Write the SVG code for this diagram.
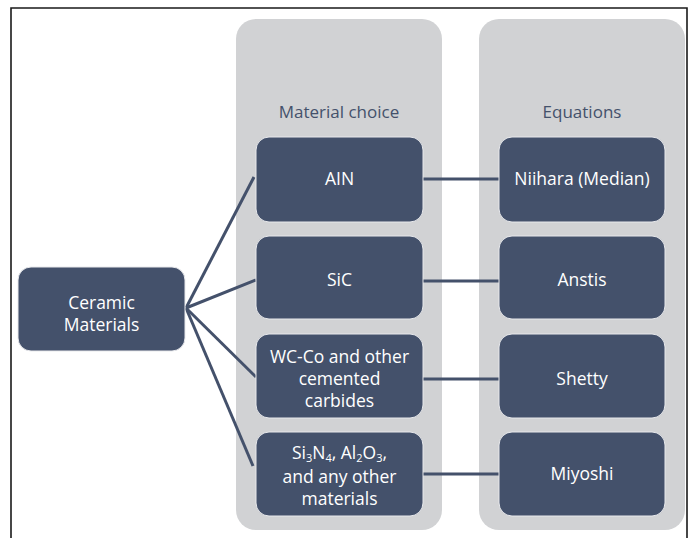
<svg xmlns="http://www.w3.org/2000/svg" width="692" height="538" viewBox="0 0 692 538">
<style>
.col{fill:#D1D2D4}
.box{fill:#44516B;stroke:#E8E9EC;stroke-width:1}
.t{font-family:"Open Sans","Noto Sans",sans-serif;font-size:17.5px;fill:#FFFFFF;text-anchor:middle}
.h{font-family:"Open Sans","Noto Sans",sans-serif;font-size:17px;fill:#44516B;text-anchor:middle}
.c{stroke:#44516B;stroke-width:3;fill:none}
.sub{font-size:11px}
</style>
<rect width="692" height="538" fill="#FFFFFF"/>
<path d="M11 538 V8 H687 V538" fill="none" stroke="#1A1A1A" stroke-width="1.6"/>
<rect class="col" x="236" y="19" width="206" height="511" rx="20"/>
<rect class="col" x="479" y="19" width="206" height="511" rx="20"/>
<text class="h" x="339" y="118">Material choice</text>
<text class="h" x="582" y="118">Equations</text>
<g id="connectors">
<line class="c" x1="186" y1="308" x2="254" y2="177"/>
<line class="c" x1="186" y1="308" x2="256" y2="280"/>
<line class="c" x1="186" y1="308" x2="256" y2="377"/>
<line class="c" x1="186" y1="308" x2="253" y2="466"/>
<line class="c" x1="423" y1="179" x2="499" y2="179"/>
<line class="c" x1="423" y1="281" x2="499" y2="281"/>
<line class="c" x1="423" y1="379" x2="499" y2="379"/>
<line class="c" x1="423" y1="474" x2="499" y2="474"/>
</g>
<g id="ceramic">
<rect class="box" x="18" y="267" width="167" height="84" rx="13"/>
<text class="t" x="101.5" y="309">Ceramic</text>
<text class="t" x="101.5" y="331">Materials</text>
</g>
<g id="ain">
<rect class="box" x="256" y="137" width="167" height="85" rx="13"/>
<text class="t" x="339.5" y="185">AIN</text>
</g>
<g id="sic">
<rect class="box" x="256" y="236" width="167" height="83" rx="13"/>
<text class="t" x="339.5" y="286">SiC</text>
</g>
<g id="wcco">
<rect class="box" x="256" y="334" width="167" height="84" rx="13"/>
<text class="t" x="339.5" y="363">WC-Co and other</text>
<text class="t" x="339.5" y="385">cemented</text>
<text class="t" x="339.5" y="407">carbides</text>
</g>
<g id="si3n4">
<rect class="box" x="256" y="432" width="167" height="84" rx="13"/>
<text class="t" x="339.5" y="459">Si<tspan class="sub" dy="3">3</tspan><tspan dy="-3">N</tspan><tspan class="sub" dy="3">4</tspan><tspan dy="-3">, Al</tspan><tspan class="sub" dy="3">2</tspan><tspan dy="-3">O</tspan><tspan class="sub" dy="3">3</tspan><tspan dy="-3">,</tspan></text>
<text class="t" x="339.5" y="483">and any other</text>
<text class="t" x="339.5" y="505">materials</text>
</g>
<g id="niihara">
<rect class="box" x="499" y="137" width="166" height="85" rx="13"/>
<text class="t" x="582" y="185">Niihara (Median)</text>
</g>
<g id="anstis">
<rect class="box" x="499" y="236" width="166" height="83" rx="13"/>
<text class="t" x="582" y="286">Anstis</text>
</g>
<g id="shetty">
<rect class="box" x="499" y="334" width="166" height="84" rx="13"/>
<text class="t" x="582" y="385">Shetty</text>
</g>
<g id="miyoshi">
<rect class="box" x="499" y="432" width="166" height="84" rx="13"/>
<text class="t" x="582" y="480">Miyoshi</text>
</g>
</svg>
